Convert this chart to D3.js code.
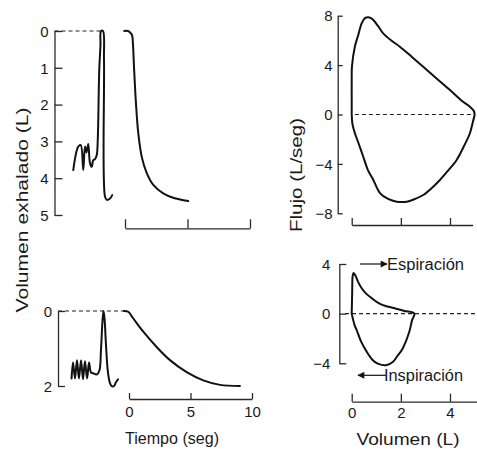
<!DOCTYPE html>
<html>
<head>
<meta charset="utf-8">
<script src="https://cdn.jsdelivr.net/npm/d3@7"></script>
<style>
  html, body { margin: 0; padding: 0; background: #fff; }
  svg { display: block; }
  text { font-family: "Liberation Sans", Arial, Helvetica, sans-serif; fill: #1a1a1a; }
  .axis path, .axis line { stroke: #2a2a2a; stroke-width: 1.3; fill: none; }
  .axis text { font-size: 15px; }
  .trace { fill: none; stroke: #111; stroke-width: 2; stroke-linejoin: round; stroke-linecap: round; }
  .zero { stroke: #222; stroke-width: 1.2; stroke-dasharray: 4 3; fill: none; }
</style>
</head>
<body>
<svg id="chart" width="477" height="450"></svg>
<script>
// Volume-time trace, normal subject: tidal breaths, full inspiration, then forced expiration (s, L exhaled)
const normTidalTime = [-4.14, -3.74, -3.54, -3.34, -3.2, -3.08, -2.94, -2.8, -2.66, -2.54, -2.4, -2.26, -2.18, -2.06, -1.96, -1.92, -1.76, -1.68, -1.6, -1.46, -1.2, -1.02];
const normTidalVol  = [3.78, 3.14, 3.10, 3.78, 3.14, 3.3, 3.07, 3.59, 3.69, 3.51, 3.48, 3.37, 2.96, 1.06, 0.38, 0.0, 0.0, 0.79, 4.5, 4.59, 4.55, 4.46];
const normForcedTime = [-0.06, 0.24, 0.4, 0.56, 0.64, 0.72, 0.86, 1.06, 1.34, 1.74, 2.26, 3.06, 3.86, 5.06];
const normForcedVol  = [0.0, 0.0, 0.04, 0.11, 0.38, 0.97, 1.87, 2.77, 3.42, 3.86, 4.18, 4.41, 4.53, 4.62];

// Volume-time trace, obstructed subject
const obsTidalTime = [-4.67, -4.55, -4.39, -4.23, -4.07, -3.9, -3.74, -3.58, -3.41, -3.25, -3.09, -2.93, -2.6, -2.4, -2.28, -2.15, -2.07, -1.99, -1.87, -1.71, -1.54, -1.38, -1.22, -1.06, -0.89];
const obsTidalVol  = [1.80, 1.37, 1.80, 1.31, 1.80, 1.31, 1.82, 1.34, 1.80, 1.37, 1.64, 1.66, 1.69, 1.58, 1.05, 0.24, 0.0, 0.19, 0.91, 1.64, 1.93, 2.01, 2.0, 1.90, 1.82];
const obsForcedTime = [-0.41, -0.06, 0.35, 1.16, 2.25, 3.33, 4.69, 6.04, 7.4, 9.02];
const obsForcedVol  = [0.0, 0.02, 0.2, 0.55, 0.96, 1.31, 1.63, 1.85, 1.97, 2.0];

// Flow-volume loop, normal subject (L, L/s)
const normLoopVol  = [0, 0, 0, 0.01, 0.13, 0.26, 0.41, 0.54, 0.67, 0.78, 0.88, 1.07, 1.28, 1.64, 1.96, 2.45, 2.91, 3.43, 4.0, 4.49, 4.81, 4.97, 5.0,
                      4.93, 4.81, 4.57, 4.27, 3.91, 3.59, 3.26, 2.91, 2.57, 2.24, 1.83, 1.48, 1.15, 0.88, 0.66, 0.47, 0.26, 0.13, 0.03, 0];
const normLoopFlow = [0, 1.17, 2.8, 3.87, 5.5, 6.4, 7.4, 7.8, 7.87, 7.8, 7.65, 7.17, 6.57, 5.95, 5.49, 4.66, 3.87, 2.96, 1.98, 1.09, 0.63, 0.28, 0,
                      -0.6, -1.52, -2.55, -3.68, -4.57, -5.3, -5.95, -6.52, -6.84, -7.06, -7.06, -6.84, -6.36, -5.3, -4.5, -3.42, -2.23, -1.52, -0.77, 0];

// Flow-volume loop, obstructed subject
const obsLoopVol  = [0, 0.02, 0.04, 0.08, 0.16, 0.26, 0.4, 0.59, 0.85, 1.13, 1.45, 1.81, 2.14, 2.55,
                     2.46, 2.34, 2.07, 1.86, 1.67, 1.4, 1.06, 0.85, 0.59, 0.39, 0.2, 0.12, 0];
const obsLoopFlow = [0, 1.75, 3.04, 3.28, 3.04, 2.56, 2.07, 1.61, 1.19, 0.81, 0.58, 0.4, 0.22, 0,
                     -0.5, -1.48, -2.82, -3.41, -3.9, -4.16, -4.03, -3.73, -3.0, -2.28, -1.31, -0.94, 0];

// Tick values
const volTicksNorm = [0, 1, 2, 3, 4, 5];
const volTicksObs = [0, 2];
const timeTicks = [0, 5, 10];
const flowTicksNorm = [8, 4, 0, -4, -8];
const flowTicksObs = [4, 0, -4];
const loopVolTicks = [0, 2, 4];

const svg = d3.select("#chart");
const zip = (a, b) => a.map((v, i) => [v, b[i]]);
const intFmt = d3.format("d");

function traceLine(x, y) {
  return d3.line().x(d => x(d[0])).y(d => y(d[1])).curve(d3.curveCatmullRom.alpha(0.5));
}

function yAxis(scale, xPos, ticks, tickLen, pad) {
  svg.append("g").attr("class", "axis").attr("transform", `translate(${xPos},0)`)
    .call(d3.axisLeft(scale).tickValues(ticks).tickSizeInner(-tickLen).tickSizeOuter(0).tickPadding(pad).tickFormat(intFmt))
    .call(g => g.selectAll("text").attr("dy", "0.35em"));
}

function xAxis(scale, yPos, ticks, tickLen, labels, pad) {
  const ax = d3.axisBottom(scale).tickValues(ticks).tickSizeInner(-tickLen).tickSizeOuter(0).tickPadding(pad)
    .tickFormat(labels ? intFmt : "");
  svg.append("g").attr("class", "axis").attr("transform", `translate(0,${yPos})`).call(ax);
}

// ---------- Volume-time, normal ----------
const yVolNorm = d3.scaleLinear([0, 5], [31, 215]);
const xTimeNorm = d3.scaleLinear([0, 10], [125, 250]);
const axNormX = 54.5;
yAxis(yVolNorm, axNormX, volTicksNorm, 8, 6);
xAxis(xTimeNorm, 228.3, timeTicks, 9, false, 0);
svg.append("line").attr("class", "zero")
  .attr("x1", axNormX).attr("x2", xTimeNorm(-1.94)).attr("y1", yVolNorm(0)).attr("y2", yVolNorm(0));
svg.append("path").attr("class", "trace").attr("d", traceLine(xTimeNorm, yVolNorm)(zip(normTidalTime, normTidalVol)));
svg.append("path").attr("class", "trace").attr("d", traceLine(xTimeNorm, yVolNorm)(zip(normForcedTime, normForcedVol)));

// ---------- Volume-time, obstructed ----------
const yVolObs = d3.scaleLinear([0, 2], [311, 386]);
const xTimeObs = d3.scaleLinear([0, 10], [129, 252]);
const axObsX = 58;
yAxis(yVolObs, axObsX, volTicksObs, 7, 6);
xAxis(xTimeObs, 399, timeTicks, 6, true, 7);
svg.append("line").attr("class", "zero")
  .attr("x1", axObsX).attr("x2", xTimeObs(-0.41)).attr("y1", yVolObs(0)).attr("y2", yVolObs(0));
svg.append("path").attr("class", "trace").attr("d", traceLine(xTimeObs, yVolObs)(zip(obsTidalTime, obsTidalVol)));
svg.append("path").attr("class", "trace").attr("d", traceLine(xTimeObs, yVolObs)(zip(obsForcedTime, obsForcedVol)));

// ---------- Flow-volume, normal ----------
const xLoop = d3.scaleLinear([0, 4], [351.7, 450]);
const yFlowNorm = d3.scaleLinear([-8, 8], [213.3, 15.7]);
yAxis(yFlowNorm, 337.7, flowTicksNorm, 5, 5);
xAxis(xLoop.copy().domain([0, 4.92]).range([xLoop(0), xLoop(4.92)]), 225, loopVolTicks, 7, false, 0);
svg.append("line").attr("class", "zero")
  .attr("x1", xLoop(0.13)).attr("x2", xLoop(5.0)).attr("y1", yFlowNorm(0)).attr("y2", yFlowNorm(0));
svg.append("path").attr("class", "trace").attr("d", traceLine(xLoop, yFlowNorm)(zip(normLoopVol, normLoopFlow)));

// ---------- Flow-volume, obstructed ----------
const yFlowObs = d3.scaleLinear([-4, 4], [363.3, 264]);
yAxis(yFlowObs, 339.3, flowTicksObs, 7, 9);
xAxis(xLoop.copy().domain([0, 5.15]).range([xLoop(0), xLoop(5.15)]), 401.7, loopVolTicks, 8, true, 6);
svg.append("line").attr("class", "zero")
  .attr("x1", 345).attr("x2", 476).attr("y1", yFlowObs(0)).attr("y2", yFlowObs(0));
svg.append("path").attr("class", "trace").attr("d", traceLine(xLoop, yFlowObs)(zip(obsLoopVol, obsLoopFlow)));

// Direction annotations
const defs = svg.append("defs");
defs.append("marker").attr("id", "head").attr("viewBox", "0 0 10 10").attr("refX", 9).attr("refY", 5)
  .attr("markerWidth", 9).attr("markerHeight", 7).attr("markerUnits", "userSpaceOnUse").attr("orient", "auto")
  .append("path").attr("d", "M0,0L10,5L0,10Z").attr("fill", "#111");

const espY = yFlowObs(4);
svg.append("line").attr("x1", 360).attr("x2", 387).attr("y1", espY).attr("y2", espY)
  .attr("stroke", "#111").attr("stroke-width", 1.2).attr("marker-end", "url(#head)");
svg.append("text").attr("x", 387).attr("y", espY).attr("dy", "0.36em")
  .attr("font-size", 16).attr("textLength", 77).attr("lengthAdjust", "spacingAndGlyphs").text("Espiración");

const insY = yFlowObs(-4) + 12;
svg.append("line").attr("x1", 386).attr("x2", 358).attr("y1", insY).attr("y2", insY)
  .attr("stroke", "#111").attr("stroke-width", 1.2).attr("marker-end", "url(#head)");
svg.append("text").attr("x", 384).attr("y", insY).attr("dy", "0.36em")
  .attr("font-size", 16).attr("textLength", 79).attr("lengthAdjust", "spacingAndGlyphs").text("Inspiración");

// Axis titles
svg.append("text").attr("transform", "translate(28,210) rotate(-90)").attr("text-anchor", "middle")
  .attr("font-size", 16).attr("textLength", 205).attr("lengthAdjust", "spacingAndGlyphs").text("Volumen exhalado (L)");
svg.append("text").attr("transform", "translate(302,175) rotate(-90)").attr("text-anchor", "middle")
  .attr("font-size", 16).attr("textLength", 114).attr("lengthAdjust", "spacingAndGlyphs").text("Flujo (L/seg)");
svg.append("text").attr("x", 172).attr("y", 444).attr("text-anchor", "middle")
  .attr("font-size", 16).attr("textLength", 94).attr("lengthAdjust", "spacingAndGlyphs").text("Tiempo (seg)");
svg.append("text").attr("x", 408).attr("y", 445).attr("text-anchor", "middle")
  .attr("font-size", 16).attr("textLength", 103).attr("lengthAdjust", "spacingAndGlyphs").text("Volumen (L)");
</script>
</body>
</html>
